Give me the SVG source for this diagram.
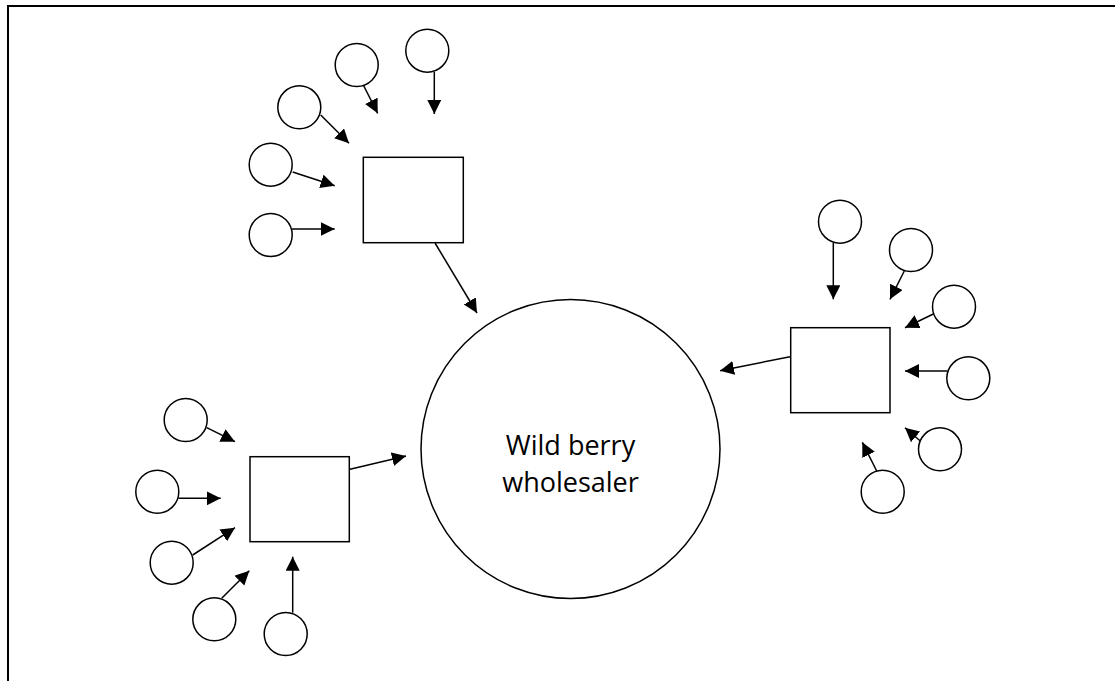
<svg xmlns="http://www.w3.org/2000/svg" width="1115" height="681" viewBox="0 0 1115 681">
<style>
.node{fill:#fff;stroke:#000;stroke-width:1.5}
.edge{stroke:#000;stroke-width:1.5;fill:none;marker-end:url(#ah)}
.lbl{font-family:"Open Sans","Liberation Sans",sans-serif;font-size:27px;fill:#000;text-anchor:middle}
</style>
<defs>
<marker id="ah" markerUnits="userSpaceOnUse" markerWidth="15" markerHeight="15" refX="14" refY="7" orient="auto" viewBox="0 0 15 15">
<path d="M0,0 L14,7 L0,14 z" fill="#000"/>
</marker>
</defs>
<rect x="0" y="0" width="1115" height="681" fill="#fff"/>
<rect x="8" y="6" width="1200" height="800" fill="none" stroke="#000" stroke-width="2"/>
<g id="wholesaler"><circle class="node" cx="570.5" cy="449" r="149.5"/>
<text class="lbl" x="570.5" y="455">Wild berry</text>
<text class="lbl" x="570.5" y="492">wholesaler</text></g>
<g id="hub-top"><rect class="node" x="363.3" y="157.3" width="100" height="85.4"/></g>
<g id="hub-right"><rect class="node" x="790.7" y="327.7" width="99.3" height="85"/></g>
<g id="hub-left"><rect class="node" x="250" y="456.7" width="99.3" height="85"/></g>
<g id="pA"><circle class="node" cx="427.3" cy="50.7" r="21.5"/></g>
<g id="pB"><circle class="node" cx="356.7" cy="65" r="21.5"/></g>
<g id="pC"><circle class="node" cx="299.3" cy="107.3" r="21.5"/></g>
<g id="pD"><circle class="node" cx="270.7" cy="164.7" r="21.5"/></g>
<g id="pE"><circle class="node" cx="270.7" cy="235" r="21.5"/></g>
<g id="pF"><circle class="node" cx="840" cy="221.7" r="21.5"/></g>
<g id="pG"><circle class="node" cx="911" cy="250" r="21.5"/></g>
<g id="pH"><circle class="node" cx="954" cy="306.7" r="21.5"/></g>
<g id="pI"><circle class="node" cx="968.3" cy="378.3" r="21.5"/></g>
<g id="pJ"><circle class="node" cx="940" cy="449.3" r="21.5"/></g>
<g id="pK"><circle class="node" cx="882.7" cy="491.7" r="21.5"/></g>
<g id="pL"><circle class="node" cx="185.7" cy="420" r="21.5"/></g>
<g id="pM"><circle class="node" cx="157.3" cy="491.7" r="21.5"/></g>
<g id="pN"><circle class="node" cx="171.7" cy="562.7" r="21.5"/></g>
<g id="pO"><circle class="node" cx="214.3" cy="619.3" r="21.5"/></g>
<g id="pP"><circle class="node" cx="285.7" cy="634" r="21.5"/></g>
<g id="connectors">
<line class="edge" x1="434.3" y1="72" x2="434.3" y2="114"/>
<line class="edge" x1="363.3" y1="85" x2="377.7" y2="113.3"/>
<line class="edge" x1="320.7" y1="115" x2="349" y2="143.3"/>
<line class="edge" x1="292.7" y1="172" x2="334.7" y2="185.7"/>
<line class="edge" x1="292" y1="229" x2="334.7" y2="229"/>
<line class="edge" x1="435" y1="243" x2="477" y2="313"/>
<line class="edge" x1="833.3" y1="242.7" x2="833.3" y2="299.3"/>
<line class="edge" x1="904.3" y1="271" x2="890" y2="299.3"/>
<line class="edge" x1="933.3" y1="314" x2="905" y2="327.7"/>
<line class="edge" x1="947.3" y1="371" x2="905" y2="371"/>
<line class="edge" x1="920" y1="440.7" x2="905" y2="427.7"/>
<line class="edge" x1="876.7" y1="471" x2="862.3" y2="442.3"/>
<line class="edge" x1="790" y1="356.7" x2="720" y2="370.7"/>
<line class="edge" x1="206.7" y1="427.7" x2="235" y2="441.7"/>
<line class="edge" x1="178.3" y1="498.3" x2="220.7" y2="498.3"/>
<line class="edge" x1="192.7" y1="555" x2="235" y2="527.7"/>
<line class="edge" x1="221.7" y1="598.3" x2="249.3" y2="570.7"/>
<line class="edge" x1="292.7" y1="612.7" x2="292.7" y2="556.7"/>
<line class="edge" x1="350" y1="469.3" x2="406" y2="456"/>
</g>
</svg>
